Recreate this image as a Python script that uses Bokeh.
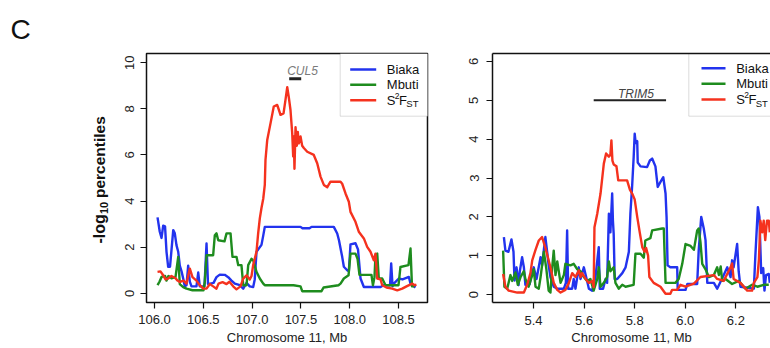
from bokeh.plotting import figure
from bokeh.layouts import row
from bokeh.models import Range1d, FixedTicker, NumeralTickFormatter, Label, BoxAnnotation, LinearAxis
from bokeh.embed import file_html
from bokeh.resources import INLINE

# ---------------- data (Mb, -log10 percentile) ----------------
# Left panel (CUL5 region)
biaka_left = [(106.031, 3.29), (106.054, 2.67), (106.072, 2.4), (106.089, 2.93), (106.108, 2.9), (106.123, 1.8),
              (106.140, 1.15), (106.159, 1.15), (106.192, 2.74), (106.208, 2.6), (106.225, 2.09), (106.243, 1.8),
              (106.259, 1.2), (106.277, 0.95), (106.294, 0.64), (106.310, 0.3), (106.328, 0.35), (106.345, 1.2),
              (106.362, 0.5), (106.379, 0.3), (106.430, 0.3), (106.448, 0.9), (106.464, 0.3), (106.512, 0.3),
              (106.533, 2.16), (106.548, 0.4), (106.605, 0.45), (106.635, 0.7), (106.669, 0.81), (106.720, 0.8),
              (106.755, 0.7), (106.789, 0.55), (106.823, 0.42), (106.874, 0.35), (106.909, 0.2), (106.943, 0.45),
              (106.976, 0.3), (107.011, 0.27), (107.027, 0.6), (107.045, 1.8), (107.096, 2.1), (107.114, 2.5),
              (107.130, 2.88), (107.496, 2.88), (107.516, 2.82), (107.588, 2.82), (107.609, 2.88), (107.837, 2.88),
              (107.872, 2.59), (107.890, 2.3), (107.923, 1.58), (107.940, 1.15), (107.974, 1.0), (107.991, 0.95),
              (108.008, 2.12), (108.059, 2.17), (108.085, 1.9), (108.111, 0.64), (108.145, 0.27), (108.316, 0.27),
              (108.346, 0.35), (108.413, 0.35), (108.425, 1.29), (108.439, 0.3), (108.452, 0.42), (108.503, 0.64),
              (108.541, 0.6), (108.606, 0.71), (108.623, 0.42), (108.674, 0.25)]
mbuti_left = [(106.031, 0.35), (106.051, 0.5), (106.072, 0.71), (106.108, 0.75), (106.123, 0.55), (106.143, 0.75),
              (106.174, 0.65), (106.215, 0.7), (106.243, 1.58), (106.259, 0.4), (106.294, 0.27), (106.328, 0.2),
              (106.389, 0.13), (106.502, 0.13), (106.515, 0.49), (106.533, 1.65), (106.601, 1.65), (106.618, 2.52),
              (106.635, 2.6), (106.653, 2.3), (106.717, 2.25), (106.738, 2.6), (106.779, 2.6), (106.799, 1.58),
              (106.840, 1.58), (106.858, 1.22), (106.891, 1.22), (106.909, 0.35), (106.943, 0.35), (106.960, 1.22),
              (106.994, 1.5), (107.014, 1.4), (107.045, 0.93), (107.079, 0.64), (107.114, 0.42), (107.130, 0.35),
              (107.424, 0.35), (107.496, 0.3), (107.513, 0.09), (107.711, 0.09), (107.732, 0.25), (107.885, 0.35),
              (107.906, 0.42), (107.940, 0.64), (107.988, 0.78), (108.008, 1.72), (108.059, 1.72), (108.080, 1.5),
              (108.100, 0.8), (108.223, 0.8), (108.238, 0.35), (108.254, 0.7), (108.264, 1.65), (108.282, 1.72),
              (108.298, 0.64), (108.333, 0.64), (108.367, 0.35), (108.500, 0.35), (108.520, 1.14), (108.602, 1.22),
              (108.623, 1.94), (108.638, 0.3), (108.664, 0.3)]
s2fst_left = [(106.031, 0.93), (106.061, 0.95), (106.089, 0.78), (106.113, 0.6), (106.143, 0.65), (106.174, 0.75),
              (106.215, 0.65), (106.236, 0.55), (106.259, 0.49), (106.297, 0.55), (106.328, 0.42), (106.362, 1.07),
              (106.389, 0.7), (106.430, 0.55), (106.464, 0.35), (106.499, 0.2), (106.533, 0.2), (106.567, 0.4),
              (106.601, 0.3), (106.635, 0.2), (106.656, 0.42), (106.697, 0.48), (106.738, 0.4), (106.768, 0.5),
              (106.806, 0.3), (106.840, 0.17), (106.881, 0.3), (106.909, 0.64), (106.943, 0.78), (106.976, 0.6),
              (106.994, 0.75), (107.011, 1.22), (107.027, 1.5), (107.045, 1.8), (107.062, 2.6), (107.079, 3.25),
              (107.096, 3.7), (107.114, 4.1), (107.130, 4.7), (107.137, 5.78), (107.155, 6.65), (107.189, 7.38),
              (107.222, 8.1), (107.257, 8.17), (107.274, 7.96), (107.291, 7.74), (107.322, 7.8), (107.342, 8.39),
              (107.360, 8.94), (107.376, 8.5), (107.393, 7.96), (107.411, 6.94), (107.421, 5.93), (107.427, 6.8),
              (107.434, 5.4), (107.445, 7.2), (107.458, 6.4), (107.468, 7.0), (107.478, 6.5), (107.496, 6.8),
              (107.513, 6.4), (107.530, 6.3), (107.565, 6.14), (107.632, 6.0), (107.667, 5.64), (107.701, 5.06),
              (107.735, 4.7), (107.770, 4.6), (107.803, 4.84), (107.906, 4.84), (107.923, 4.75), (107.957, 4.33),
              (107.991, 3.97), (108.008, 3.53), (108.059, 3.1), (108.093, 2.67), (108.145, 2.38), (108.179, 2.01),
              (108.213, 1.8), (108.247, 1.43), (108.264, 1.72), (108.282, 0.64), (108.316, 0.6), (108.333, 0.35),
              (108.377, 0.25), (108.435, 0.2), (108.487, 0.13), (108.538, 0.2), (108.582, 0.3), (108.640, 0.42),
              (108.664, 0.35), (108.684, 0.38)]

# Right panel (TRIM5 region)
biaka_right = [(5.283, 1.48), (5.289, 1.13), (5.301, 1.1), (5.313, 1.42), (5.321, 1.1), (5.325, 0.36), (5.333, 0.7),
               (5.341, 0.24), (5.346, 0.6), (5.355, 0.96), (5.362, 0.7), (5.368, 0.25), (5.385, 0.27), (5.392, 0.5),
               (5.401, 0.7), (5.412, 0.4), (5.428, 0.96), (5.434, 0.75), (5.441, 1.15), (5.447, 1.48), (5.454, 1.1),
               (5.460, 0.75), (5.467, 0.45), (5.480, 0.2), (5.494, 0.15), (5.520, 0.15), (5.528, 0.3), (5.533, 1.65),
               (5.537, 0.15), (5.553, 0.15), (5.559, 0.4), (5.566, 0.15), (5.579, 0.7), (5.586, 0.4), (5.599, 0.7),
               (5.612, 0.35), (5.619, 0.15), (5.632, 0.1), (5.645, 0.45), (5.658, 1.22), (5.662, 0.15), (5.675, 0.15),
               (5.685, 0.4), (5.691, 0.3), (5.698, 2.08), (5.704, 1.6), (5.711, 2.6), (5.714, 1.9), (5.717, 1.56),
               (5.721, 0.4), (5.731, 0.4), (5.751, 0.55), (5.764, 0.7), (5.777, 1.1), (5.783, 2.08), (5.790, 2.8),
               (5.796, 3.54), (5.800, 4.14), (5.804, 3.9), (5.810, 3.95), (5.812, 3.4), (5.823, 3.3), (5.849, 3.28),
               (5.860, 3.45), (5.869, 3.5), (5.882, 3.3), (5.891, 2.77), (5.902, 2.9), (5.913, 3.02), (5.922, 2.6),
               (5.926, 2.0), (5.930, 0.75), (5.941, 0.7), (5.968, 0.7), (5.970, 0.12), (6.001, 0.12), (6.008, 0.27),
               (6.047, 0.27), (6.053, 1.13), (6.063, 2.0), (6.073, 1.7), (6.080, 1.4), (6.087, 0.3), (6.113, 0.3),
               (6.126, 0.15), (6.152, 0.5), (6.166, 0.7), (6.179, 0.45), (6.185, 0.88), (6.191, 0.7), (6.198, 1.0),
               (6.205, 1.3), (6.211, 0.6), (6.218, 0.2), (6.271, 0.15), (6.277, 1.0), (6.287, 2.25), (6.293, 2.0),
               (6.300, 0.55), (6.308, 0.68), (6.313, 0.1), (6.319, 0.5), (6.330, 0.53), (6.334, 0.3)]
mbuti_right = [(5.280, 1.13), (5.285, 0.2), (5.296, 0.15), (5.309, 0.5), (5.316, 0.35), (5.329, 0.57), (5.338, 0.25),
               (5.349, 0.45), (5.362, 0.6), (5.368, 0.4), (5.381, 0.2), (5.395, 0.5), (5.401, 0.65), (5.408, 0.2),
               (5.421, 0.15), (5.428, 0.45), (5.441, 1.1), (5.451, 0.65), (5.460, 0.1), (5.467, 0.05), (5.474, 0.7),
               (5.480, 1.13), (5.487, 0.5), (5.494, 0.85), (5.507, 0.3), (5.520, 0.5), (5.526, 0.79), (5.546, 0.75),
               (5.559, 0.79), (5.573, 0.65), (5.586, 0.6), (5.599, 0.45), (5.612, 0.35), (5.625, 0.4), (5.638, 0.1),
               (5.652, 0.4), (5.658, 0.7), (5.665, 0.2), (5.678, 0.3), (5.691, 0.45), (5.698, 0.85), (5.704, 0.6),
               (5.717, 0.7), (5.724, 0.3), (5.737, 0.15), (5.751, 0.25), (5.764, 0.2), (5.796, 0.25), (5.803, 1.05),
               (5.823, 1.05), (5.836, 0.95), (5.842, 1.39), (5.862, 1.45), (5.869, 1.65), (5.909, 1.7), (5.915, 1.7),
               (5.922, 0.3), (5.961, 0.3), (5.974, 0.4), (5.988, 0.79), (6.001, 1.3), (6.021, 1.25), (6.034, 1.15),
               (6.047, 1.65), (6.053, 1.7), (6.060, 1.35), (6.067, 0.79), (6.080, 0.65), (6.093, 0.45), (6.113, 0.5),
               (6.126, 0.7), (6.133, 0.5), (6.140, 0.72), (6.146, 0.35), (6.159, 0.4), (6.185, 0.27), (6.211, 0.35),
               (6.238, 0.15), (6.264, 0.25), (6.285, 0.2), (6.310, 0.25), (6.330, 0.25)]
s2fst_right = [(5.280, 0.53), (5.289, 0.2), (5.302, 0.1), (5.336, 0.05), (5.362, 0.05), (5.375, 0.25), (5.388, 0.55),
               (5.395, 0.88), (5.408, 1.15), (5.421, 1.39), (5.434, 1.48), (5.447, 1.2), (5.454, 1.03), (5.467, 0.7),
               (5.480, 0.3), (5.494, 0.12), (5.507, 0.05), (5.526, 0.12), (5.540, 0.3), (5.553, 0.55), (5.566, 0.45),
               (5.579, 0.62), (5.586, 0.45), (5.592, 0.55), (5.606, 0.4), (5.619, 0.3), (5.632, 0.35), (5.638, 0.19),
               (5.641, 1.73), (5.652, 2.08), (5.665, 2.6), (5.678, 3.37), (5.687, 3.63), (5.698, 3.55), (5.704, 3.6),
               (5.708, 3.97), (5.712, 3.45), (5.717, 3.35), (5.728, 3.3), (5.735, 2.94), (5.770, 2.94), (5.781, 2.7),
               (5.790, 2.6), (5.800, 2.45), (5.810, 2.0), (5.820, 1.6), (5.830, 1.22), (5.839, 1.1), (5.845, 1.2),
               (5.853, 1.0), (5.858, 0.45), (5.875, 0.3), (5.902, 0.2), (5.922, 0.02), (5.941, 0.02), (5.948, 0.12),
               (5.968, 0.12), (5.981, 0.25), (6.001, 0.2), (6.034, 0.28), (6.060, 0.45), (6.113, 0.5), (6.126, 0.4),
               (6.152, 0.35), (6.179, 0.7), (6.185, 0.8), (6.191, 0.4), (6.218, 0.3), (6.245, 0.1), (6.264, 0.1),
               (6.271, 0.3), (6.285, 0.45), (6.291, 0.9), (6.297, 1.9), (6.304, 1.6), (6.310, 1.9), (6.316, 1.4),
               (6.323, 1.9), (6.330, 1.9), (6.334, 1.6)]

series_names = ["Biaka", "Mbuti", "S2FST"]
left_x_ticks = [106.0, 106.5, 107.0, 107.5, 108.0, 108.5]
left_y_ticks = [0, 2, 4, 6, 8, 10]
right_x_ticks = [5.4, 5.6, 5.8, 6.0, 6.2]
right_y_ticks = [0, 1, 2, 3, 4, 5, 6]
gene_left = ("CUL5", 107.38, 107.503, 9.30)
gene_right = ("TRIM5", 5.638, 5.924, 5.0)
x_title = "Chromosome 11, Mb"
y_title_parts = ("-log", "10", "percentiles")
panel_letter = "C"

# ---------------- styling ----------------
FONT = "Liberation Sans"
COLORS = ["#2233ee", "#1e8c1e", "#f5321e"]
LW = 2.4
H = 348
FT, FB = 53, 302          # frame top / bottom (page px), shared by the row

XL = (105.918, 108.797)
YL = (-0.4, 10.4)
XR = (5.238, 5.238 + 278 / 253.0)
YR = (-0.206, 6.206)


def mapper(xr, yr, fx0, fx1, fy0, fy1):
    # page px -> data, frame spans fx0..fx1 (x) and fy0 (bottom)..fy1 (top)
    def mx(px):
        return xr[0] + (px - fx0) / (fx1 - fx0) * (xr[1] - xr[0])

    def my(py):
        return yr[0] + (fy0 - py) / (fy0 - fy1) * (yr[1] - yr[0])
    return mx, my


lx, ly = mapper(XL, YL, 146, 427, FB, FT)
rx, ry = mapper(XR, YR, 492, 770, FB, FT)


def make_fig(width, xr, yr, bl, br):
    p = figure(width=width, height=H, x_range=Range1d(*xr), y_range=Range1d(*yr),
               output_backend="svg", toolbar_location=None,
               min_border_left=bl, min_border_right=br, min_border_top=FT, min_border_bottom=H - FB)
    p.xgrid.visible = False
    p.ygrid.visible = False
    p.background_fill_color = "white"
    p.border_fill_color = "white"
    for ax in (p.xaxis[0], p.yaxis[0]):
        ax.major_tick_out = 6
        ax.major_tick_in = 0
        ax.minor_tick_line_color = None
        ax.major_tick_line_color = "#111111"
        ax.major_tick_line_width = 1.2
        ax.major_label_text_font = FONT
        ax.major_label_text_font_size = "13px"
        ax.major_label_text_color = "#222222"
        ax.axis_label_text_font = FONT
    p.yaxis[0].major_label_orientation = "parallel"
    p.xaxis[0].axis_label = x_title
    p.xaxis[0].axis_label_text_font_size = "13px"
    p.xaxis[0].axis_label_text_font_style = "normal"
    p.xaxis[0].axis_label_text_color = "#222222"
    return p


def add_series(p, data_list):
    for data, c in zip(data_list, COLORS):
        xs = [d[0] for d in data]
        ys = [d[1] for d in data]
        p.line(xs, ys, line_color=c, line_width=LW, line_join="round")


def txt(p, x, y, text, size, **kw):
    lab = Label(x=x, y=y, text=text, text_font=FONT, text_font_size=f"{size}px",
                text_color=kw.pop("color", "#111111"), **kw)
    p.add_layout(lab)


def legend(p, mx, my, box_left, box_bottom, xr, yr, line_x0, line_x1, rows, text_x):
    p.add_layout(BoxAnnotation(left=mx(box_left), right=xr[1] + 0.5, bottom=my(box_bottom), top=yr[1],
                               fill_color="white", fill_alpha=1.0, line_color="#8a8a8a", line_width=1,
                               level="underlay"))
    for (name, c, yy) in zip(series_names, COLORS, rows):
        p.segment(x0=[mx(line_x0)], y0=[my(yy)], x1=[mx(line_x1)], y1=[my(yy)], line_color=c, line_width=LW)
        if name == "S2FST":
            txt(p, mx(text_x), my(yy), "S", 13, text_baseline="middle")
            txt(p, mx(text_x + 8.0), my(yy - 4.5), "2", 8.5, text_baseline="middle")
            txt(p, mx(text_x + 12.2), my(yy), "F", 13, text_baseline="middle")
            txt(p, mx(text_x + 19.5), my(yy + 3.5), "ST", 9.5, text_baseline="middle")
        else:
            txt(p, mx(text_x), my(yy), name, 13, text_baseline="middle")


# ---------------- side strip: panel letter and y-axis title ----------------
W0 = 110
p0 = figure(width=W0, height=H, x_range=Range1d(0, W0), y_range=Range1d(H - FB, H - FT),
            output_backend="svg", toolbar_location=None, x_axis_location=None, y_axis_location=None,
            min_border_left=0, min_border_right=0, min_border_top=FT, min_border_bottom=H - FB)
p0.xgrid.visible = False
p0.ygrid.visible = False
p0.outline_line_color = None
p0.background_fill_color = "white"
p0.border_fill_color = "white"
p0.title.text = panel_letter
p0.title.text_font = FONT
p0.title.text_font_size = "28px"
p0.title.text_font_style = "normal"
p0.title.text_color = "#111111"
p0.title.align = "left"
p0.title.offset = 10
p0.title.standoff = 17

ROT = 1.5707963
txt(p0, 99, H - 243, y_title_parts[0], 16, text_font_style="bold", angle=ROT,
    text_align="left", text_baseline="alphabetic")
txt(p0, 103, H - 213.6, y_title_parts[1], 11, text_font_style="bold", angle=ROT,
    text_align="left", text_baseline="alphabetic")
txt(p0, 99, H - 197.5, y_title_parts[2], 15.5, text_font_style="bold", angle=ROT,
    text_align="left", text_baseline="alphabetic")

# ---------------- left panel ----------------
p1 = make_fig(460 - W0, XL, YL, 146 - W0, 33)
p1.outline_line_color = "#111111"
p1.outline_line_width = 1.5
p1.outline_line_alpha = 1.0
p1.xaxis[0].axis_line_color = None
p1.yaxis[0].axis_line_color = None
p1.xaxis[0].ticker = FixedTicker(ticks=left_x_ticks)
p1.xaxis[0].formatter = NumeralTickFormatter(format="0.0")
p1.xaxis[0].major_label_standoff = 6
p1.xaxis[0].axis_label_standoff = 3
p1.yaxis[0].ticker = FixedTicker(ticks=left_y_ticks)
p1.yaxis[0].formatter = NumeralTickFormatter(format="0")
p1.yaxis[0].major_label_standoff = 6

add_series(p1, [biaka_left, mbuti_left, s2fst_left])

# gene annotation
g = gene_left
p1.segment(x0=[g[1]], y0=[g[3]], x1=[g[2]], y1=[g[3]], line_color="#222222", line_width=3)
txt(p1, lx(302), ly(70), g[0], 12, color="#7a7a7a", text_font_style="italic",
    text_align="center", text_baseline="middle")

legend(p1, lx, ly, 339.7, 115.7, XL, YL, 349.7, 375.7, [69.0, 84.3, 99.7], 386.3)

# ---------------- right panel ----------------
p2 = make_fig(310, XR, YR, 32, 0)
p2.outline_line_color = None
for ax in (p2.xaxis[0], p2.yaxis[0]):
    ax.axis_line_color = "#111111"
    ax.axis_line_width = 1.5
p2.xaxis[0].ticker = FixedTicker(ticks=right_x_ticks)
p2.xaxis[0].formatter = NumeralTickFormatter(format="0.0")
p2.xaxis[0].major_label_standoff = 7
p2.xaxis[0].axis_label_standoff = 2
p2.yaxis[0].ticker = FixedTicker(ticks=right_y_ticks)
p2.yaxis[0].formatter = NumeralTickFormatter(format="0")
p2.yaxis[0].major_label_standoff = 8
top_axis = LinearAxis(ticker=FixedTicker(ticks=[]), major_label_text_font_size="0px",
                      axis_line_color="#111111", axis_line_width=1.5,
                      major_tick_out=0, major_tick_in=0, minor_tick_out=0, minor_tick_in=0)
p2.add_layout(top_axis, "above")

add_series(p2, [biaka_right, mbuti_right, s2fst_right])

g = gene_right
p2.segment(x0=[g[1]], y0=[g[3]], x1=[g[2]], y1=[g[3]], line_color="#222222", line_width=2)
txt(p2, rx(635.5), ry(93.5), g[0], 12, color="#444444", text_font_style="italic",
    text_align="center", text_baseline="middle")

legend(p2, rx, ry, 688.3, 115.7, XR, YR, 701.0, 725.0, [67.7, 83.3, 99.0], 735.7)

layout = row(p0, p1, p2)
open("out.html", "w").write(file_html(layout, INLINE))
